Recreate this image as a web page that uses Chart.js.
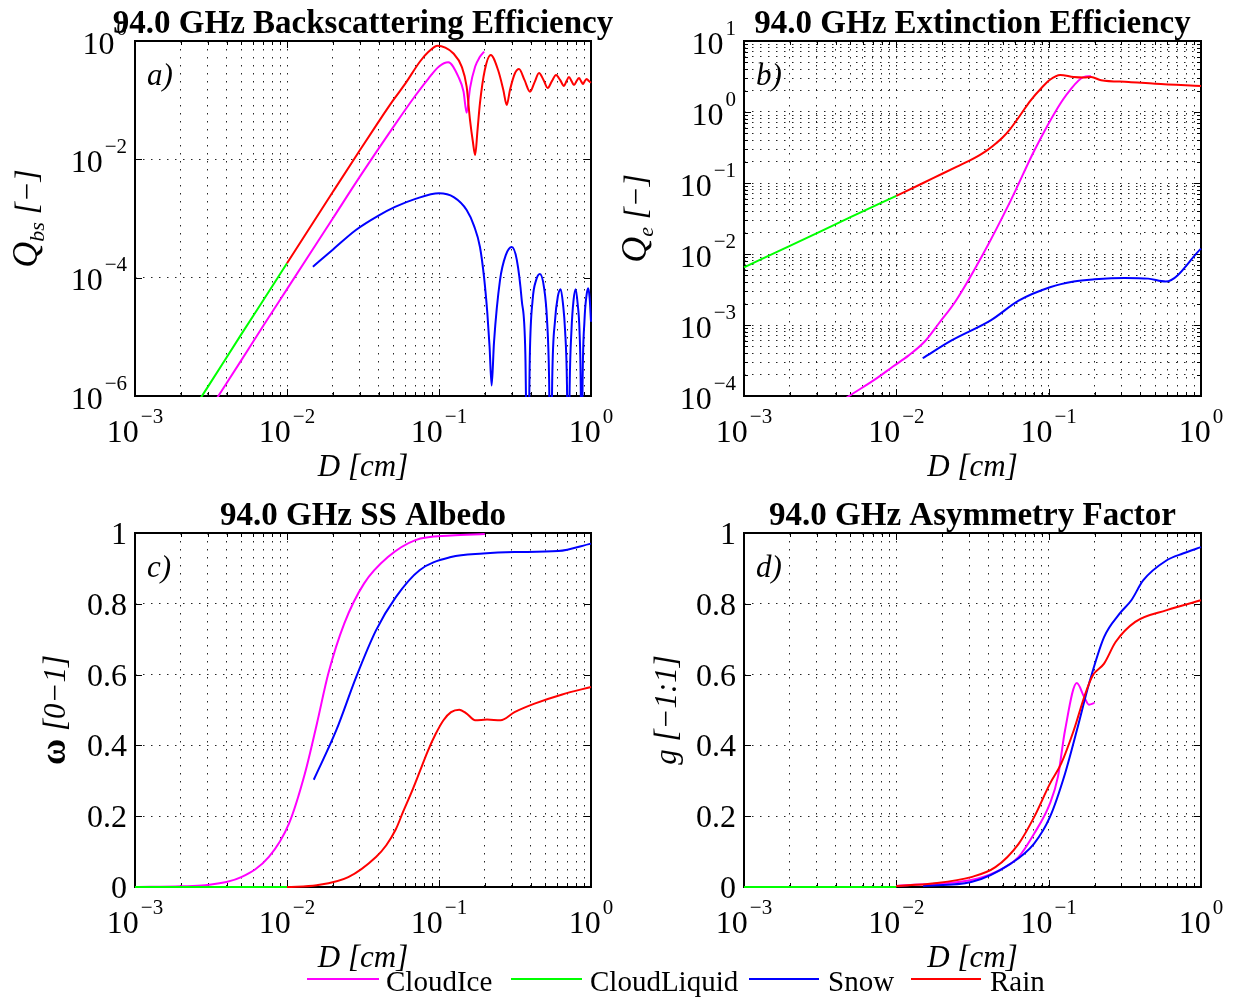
<!DOCTYPE html>
<html>
<head>
<meta charset="utf-8">
<title>94.0 GHz scattering properties</title>
<script src="https://cdn.jsdelivr.net/npm/chart.js@4.4.0/dist/chart.umd.min.js"></script>
<style>
  html, body { margin: 0; padding: 0; background: #fff; }
  #fig { position: relative; width: 1233px; height: 998px; overflow: hidden; }
  #fig canvas { position: absolute; left: 0; top: 0; }
</style>
</head>
<body>
<div id="fig">
  <canvas id="cA" width="1233" height="998"></canvas>
  <canvas id="cB" width="1233" height="998"></canvas>
  <canvas id="cC" width="1233" height="998"></canvas>
  <canvas id="cD" width="1233" height="998"></canvas>
</div>
<script>
// ---- data (D in cm) ----

// a) backscattering efficiency
const aIceD  = [0.001, 0.002, 0.003, 0.005, 0.007, 0.01, 0.02, 0.03, 0.05, 0.07, 0.085, 0.1, 0.115, 0.134, 0.145, 0.152, 0.16, 0.173, 0.185, 0.198];
const aIceQ  = [6e-9, 1e-7, 5.2e-7, 4e-6, 1.55e-5, 6.4e-5, 1e-3, 5e-3, 0.035, 0.12, 0.23, 0.37, 0.436, 0.25, 0.14, 0.061, 0.16, 0.37, 0.53, 0.66];
const aLiqD  = [0.001, 0.002, 0.003, 0.005, 0.007, 0.01];
const aLiqQ  = [1.7e-8, 2.8e-7, 1.4e-6, 1.1e-5, 4.2e-5, 1.75e-4];
const aSnowD = [0.0148, 0.02, 0.0284, 0.04, 0.0514, 0.07, 0.1, 0.125, 0.152, 0.17, 0.186, 0.198, 0.208, 0.215, 0.222, 0.23, 0.252, 0.275, 0.301, 0.325, 0.35, 0.37, 0.383, 0.396, 0.413, 0.435, 0.461, 0.49, 0.514, 0.53, 0.543, 0.556, 0.58, 0.605, 0.632, 0.655, 0.675, 0.695, 0.709, 0.724, 0.744, 0.768, 0.793, 0.818, 0.84, 0.856, 0.868, 0.88, 0.906, 0.932, 0.959, 0.98, 1.0];
const aSnowQ = [1.53e-4, 2.97e-4, 6.4e-4, 1.12e-3, 1.57e-3, 2.15e-3, 2.67e-3, 2.3e-3, 1.39e-3, 7.5e-4, 3.3e-4, 1e-4, 2.5e-5, 7e-6, 1.5e-6, 8e-6, 9.1e-5, 2.4e-4, 3.3e-4, 2e-4, 4.2e-5, 5e-6, 1e-8, 5e-6, 4.2e-5, 9e-5, 1.15e-4, 7e-5, 1.9e-5, 2e-6, 1e-8, 2e-6, 1.9e-5, 4.8e-5, 6.4e-5, 3.5e-5, 1.3e-5, 1.5e-6, 1e-8, 1.5e-6, 1.3e-5, 4.2e-5, 6.4e-5, 3.5e-5, 1.3e-5, 1.5e-6, 1e-8, 1.5e-6, 1.9e-5, 4.8e-5, 6.6e-5, 4.5e-5, 1.8e-5];
const aRainD = [0.01, 0.02, 0.03, 0.04, 0.05, 0.06, 0.075, 0.085, 0.098, 0.11, 0.124, 0.141, 0.152, 0.16, 0.167, 0.173, 0.179, 0.186, 0.2, 0.219, 0.245, 0.265, 0.279, 0.293, 0.316, 0.336, 0.365, 0.397, 0.425, 0.455, 0.487, 0.519, 0.553, 0.589, 0.626, 0.664, 0.69, 0.716, 0.745, 0.773, 0.803, 0.834, 0.86, 0.886, 0.91, 0.937, 0.968, 1.0];
const aRainQ = [1.75e-4, 2.8e-3, 0.014, 0.043, 0.1, 0.19, 0.45, 0.65, 0.83, 0.77, 0.62, 0.37, 0.17, 0.046, 0.02, 0.0118, 0.03, 0.089, 0.32, 0.58, 0.32, 0.149, 0.083, 0.149, 0.285, 0.336, 0.22, 0.139, 0.2, 0.288, 0.22, 0.161, 0.21, 0.266, 0.22, 0.174, 0.21, 0.246, 0.21, 0.18, 0.21, 0.237, 0.21, 0.187, 0.21, 0.228, 0.21, 0.197];

// b) extinction efficiency
const bIceD  = [0.004, 0.0049, 0.0075, 0.0095, 0.012, 0.0153, 0.019, 0.0246, 0.0372, 0.0564, 0.0804, 0.115, 0.137, 0.169, 0.19];
const bIceQ  = [7.5e-5, 1e-4, 1.8e-4, 2.6e-4, 3.7e-4, 5.8e-4, 1.05e-3, 2.2e-3, 0.0101, 0.057, 0.285, 1.16, 1.99, 3.1, 3.2];
const bLiqD  = [0.001, 0.002, 0.005, 0.01];
const bLiqQ  = [6.5e-3, 0.013, 0.033, 0.066];
const bSnowD = [0.0149, 0.0232, 0.0419, 0.0635, 0.102, 0.146, 0.2, 0.316, 0.45, 0.587, 1.0];
const bSnowQ = [3.4e-4, 6.1e-4, 1.17e-3, 2.2e-3, 3.4e-3, 4.1e-3, 4.4e-3, 4.6e-3, 4.5e-3, 4.1e-3, 0.0119];
const bRainD = [0.01, 0.015, 0.02, 0.025, 0.03, 0.035, 0.04, 0.045, 0.05, 0.056, 0.065, 0.076, 0.09, 0.102, 0.119, 0.146, 0.17, 0.19, 0.221, 0.335, 0.5, 1.0];
const bRainQ = [0.066, 0.1, 0.135, 0.17, 0.205, 0.245, 0.295, 0.36, 0.44, 0.58, 0.9, 1.45, 2.2, 2.85, 3.33, 3.1, 3.05, 3.1, 2.8, 2.65, 2.5, 2.33];

// c) single scattering albedo
const cIceD  = [0.001, 0.002, 0.0029, 0.005, 0.0076, 0.0103, 0.0131, 0.0157, 0.0187, 0.0238, 0.0321, 0.0461, 0.07, 0.12, 0.2];
const cIceW  = [0, 0.002, 0.005, 0.028, 0.085, 0.179, 0.32, 0.46, 0.603, 0.744, 0.857, 0.932, 0.98, 0.993, 0.997];
const cLiqD  = [0.001, 0.01];
const cLiqW  = [0, 0];
const cSnowD = [0.015, 0.0211, 0.0285, 0.0385, 0.052, 0.0745, 0.12, 0.195, 0.314, 0.608, 1.0];
const cSnowW = [0.303, 0.443, 0.593, 0.725, 0.819, 0.895, 0.932, 0.942, 0.946, 0.949, 0.97];
const cRainD = [0.01, 0.0157, 0.0253, 0.0385, 0.045, 0.052, 0.058, 0.066, 0.075, 0.084, 0.095, 0.107, 0.12, 0.136, 0.152, 0.173, 0.207, 0.254, 0.314, 0.425, 0.647, 1.0];
const cRainW = [0, 0.005, 0.028, 0.085, 0.118, 0.163, 0.212, 0.268, 0.328, 0.382, 0.432, 0.471, 0.494, 0.501, 0.49, 0.471, 0.473, 0.471, 0.494, 0.518, 0.544, 0.565];

// d) asymmetry factor
const dIceD  = [0.01, 0.031, 0.0447, 0.0635, 0.0804, 0.102, 0.115, 0.128, 0.153, 0.171, 0.184, 0.2];
const dIceG  = [0.003, 0.02, 0.042, 0.085, 0.151, 0.236, 0.311, 0.442, 0.576, 0.537, 0.515, 0.52];
const dLiqD  = [0.001, 0.01];
const dLiqG  = [0, 0];
const dSnowD = [0.015, 0.031, 0.0564, 0.08, 0.102, 0.128, 0.153, 0.184, 0.231, 0.292, 0.349, 0.417, 0.596, 0.76, 1.0];
const dSnowG = [0.003, 0.014, 0.066, 0.122, 0.198, 0.32, 0.442, 0.574, 0.706, 0.772, 0.81, 0.866, 0.923, 0.942, 0.96];
const dRainD = [0.01, 0.0172, 0.031, 0.0447, 0.0635, 0.0804, 0.102, 0.121, 0.146, 0.174, 0.195, 0.231, 0.275, 0.37, 0.596, 1.0];
const dRainG = [0.003, 0.01, 0.028, 0.056, 0.122, 0.198, 0.292, 0.349, 0.442, 0.546, 0.598, 0.631, 0.692, 0.749, 0.782, 0.81];

// ticks
const xDecades   = [-3, -2, -1, 0];
const aYDecades  = [-6, -4, -2, 0];
const bYDecades  = [-4, -3, -2, -1, 0, 1];
const linTicks   = [0, 0.2, 0.4, 0.6, 0.8, 1];
const linLabels  = ['0', '0.2', '0.4', '0.6', '0.8', '1'];

const seriesNames = ['CloudIce', 'CloudLiquid', 'Snow', 'Rain'];
const seriesColors = ['#ff00ff', '#00ff00', '#0000ff', '#ff0000'];

// ---- drawing helpers ----
const SERIF = '"Liberation Serif", "Times New Roman", Times, serif';
const GRID = 'rgba(0,0,0,0.85)';

function pts(xs, ys) {
    return xs.map((x, i) => ({ x: x, y: ys[i] }));
}

function withMinors(decades) {
    const out = [];
    for (let i = 0; i < decades.length - 1; i++) {
        for (let m = 1; m < 10; m++) {
            out.push({ value: m * Math.pow(10, decades[i]), major: m === 1 });
        }
    }
    out.push({ value: Math.pow(10, decades[decades.length - 1]), major: true });
    return out;
}

function drawPow(ctx, exp, x, y, align) {
    const es = exp < 0 ? '\u2212' + (-exp) : String(exp);
    ctx.font = '32px ' + SERIF;
    const w1 = ctx.measureText('10').width;
    ctx.font = '21px ' + SERIF;
    const w2 = ctx.measureText(es).width;
    const x0 = align === 'center' ? x - (w1 + w2 + 2) / 2 : x - (w1 + w2 + 2);
    ctx.textAlign = 'left';
    ctx.font = '32px ' + SERIF;
    ctx.fillText('10', x0, y);
    ctx.font = '21px ' + SERIF;
    ctx.fillText(es, x0 + w1 + 2, y - 19);
}

function drawRich(ctx, parts, cx, cy) {
    // parts drawn on a rotated baseline, centred on cy
    let total = 0;
    parts.forEach(p => { ctx.font = p.font; p.w = ctx.measureText(p.t).width; total += p.w; });
    ctx.save();
    ctx.translate(cx, cy);
    ctx.rotate(-Math.PI / 2);
    ctx.textAlign = 'left';
    let x = -total / 2;
    parts.forEach(p => { ctx.font = p.font; ctx.fillText(p.t, x, p.dy || 0); x += p.w; });
    ctx.restore();
}

function makeDecor(p) {
    return {
        id: 'decor' + p.key,
        beforeDatasetsDraw(chart) {
            const ctx = chart.ctx;
            const a = chart.chartArea;
            const xs = chart.scales.x;
            const ys = chart.scales.y;
            ctx.save();
            ctx.strokeStyle = '#000';

            // inward tick marks
            ctx.lineWidth = 1;
            ctx.beginPath();
            xs.ticks.forEach(t => {
                const px = Math.round(xs.getPixelForValue(t.value)) + 0.5;
                const len = t.major ? 7 : 4;
                ctx.moveTo(px, a.bottom); ctx.lineTo(px, a.bottom - len);
                ctx.moveTo(px, a.top); ctx.lineTo(px, a.top + len);
            });
            ys.ticks.forEach(t => {
                const py = Math.round(ys.getPixelForValue(t.value)) + 0.5;
                const len = t.major === false ? 4 : 7;
                ctx.moveTo(a.left, py); ctx.lineTo(a.left + len, py);
                ctx.moveTo(a.right, py); ctx.lineTo(a.right - len, py);
            });
            ctx.stroke();

            // axes box
            ctx.lineWidth = 2;
            ctx.strokeRect(a.left, a.top, a.right - a.left, a.bottom - a.top);
            ctx.restore();
        },
        afterDatasetsDraw(chart) {
            const ctx = chart.ctx;
            const a = chart.chartArea;
            const xs = chart.scales.x;
            const ys = chart.scales.y;
            ctx.save();
            ctx.fillStyle = '#000';
            ctx.textBaseline = 'alphabetic';

            // x tick labels
            xDecades.forEach(e => drawPow(ctx, e, xs.getPixelForValue(Math.pow(10, e)), a.bottom + 46, 'center'));

            // y tick labels
            if (p.yDecades) {
                p.yDecades.forEach(e => drawPow(ctx, e, a.left - 8, ys.getPixelForValue(Math.pow(10, e)) + 12.5, 'right'));
            } else {
                ctx.font = '32px ' + SERIF;
                ctx.textAlign = 'right';
                linTicks.forEach((v, i) => ctx.fillText(linLabels[i], a.left - 8, ys.getPixelForValue(v) + 11));
            }

            const cx = (a.left + a.right) / 2;
            const cy = (a.top + a.bottom) / 2;

            // title
            ctx.font = 'bold 33px ' + SERIF;
            ctx.textAlign = 'center';
            ctx.fillText(p.title, cx, a.top - 8);

            // x label
            ctx.font = 'italic 31px ' + SERIF;
            ctx.fillText('D [cm]', cx, a.bottom + 80);

            // y label
            drawRich(ctx, p.ylabel, a.left - p.ylabelGap, cy);

            // panel letter
            ctx.font = 'italic 31px ' + SERIF;
            ctx.textAlign = 'left';
            ctx.fillText(p.letter, a.left + 12, a.top + 44);

            // legend along the bottom
            if (p.legend) {
                const lineX = [[307, 379], [511, 582], [749, 819], [911, 981]];
                const textX = [386, 590, 828, 990];
                ctx.font = '29px ' + SERIF;
                ctx.textAlign = 'left';
                seriesNames.forEach((name, i) => {
                    ctx.strokeStyle = seriesColors[i];
                    ctx.lineWidth = 2;
                    ctx.beginPath();
                    ctx.moveTo(lineX[i][0], 979);
                    ctx.lineTo(lineX[i][1], 979);
                    ctx.stroke();
                    ctx.fillText(name, textX[i], 991);
                });
            }
            ctx.restore();
        }
    };
}

function makeChart(p) {
    const [L, T, R, B] = p.box;
    const datasets = p.series.map((s, i) => ({
        label: seriesNames[i],
        data: pts(s[0], s[1]),
        borderColor: seriesColors[i],
        backgroundColor: seriesColors[i],
        borderWidth: 2,
        pointRadius: 0,
        fill: false,
        cubicInterpolationMode: 'monotone',
        clip: p.yDecades ? 1 : 3,
        order: 4 - i
    }));

    const gridOpts = { color: GRID, lineWidth: 1, drawTicks: false };
    const borderOpts = { display: false, dash: [1.5, 6.5] };

    const yScale = p.yDecades ? {
        type: 'logarithmic', min: p.yMin, max: p.yMax,
        afterBuildTicks: s => { s.ticks = p.yGrid; },
        afterFit: s => { s.width = 0; },
        ticks: { display: false }, grid: gridOpts, border: borderOpts
    } : {
        type: 'linear', min: 0, max: 1,
        afterBuildTicks: s => { s.ticks = linTicks.map(v => ({ value: v, major: true })); },
        afterFit: s => { s.width = 0; },
        ticks: { display: false }, grid: gridOpts, border: borderOpts
    };

    return new Chart(document.getElementById(p.key), {
        type: 'line',
        data: { datasets: datasets },
        options: {
            responsive: false,
            animation: false,
            devicePixelRatio: 1,
            layout: { padding: { left: L, top: T, right: 1233 - R, bottom: 998 - B } },
            plugins: { legend: { display: false }, tooltip: { enabled: false } },
            scales: {
                x: {
                    type: 'logarithmic', min: 1e-3, max: 1,
                    afterBuildTicks: s => { s.ticks = withMinors(xDecades); },
                    afterFit: s => { s.height = 0; },
                    ticks: { display: false }, grid: gridOpts, border: borderOpts
                },
                y: yScale
            }
        },
        plugins: [makeDecor(p)]
    });
}

const qParts = sub => [
    { t: 'Q', font: 'italic 36px ' + SERIF },
    { t: sub, font: 'italic 22px ' + SERIF, dy: 7 },
    { t: ' [\u2212]', font: 'italic 31px ' + SERIF }
];

makeChart({
    key: 'cA', box: [135, 41, 591, 396],
    title: '94.0 GHz Backscattering Efficiency', letter: 'a)',
    yDecades: aYDecades, yMin: 1e-6, yMax: 1,
    yGrid: aYDecades.map(e => ({ value: Math.pow(10, e), major: true })),
    ylabel: qParts('bs'), ylabelGap: 98,
    series: [[aIceD, aIceQ], [aLiqD, aLiqQ], [aSnowD, aSnowQ], [aRainD, aRainQ]]
});

makeChart({
    key: 'cB', box: [744, 41, 1201, 396],
    title: '94.0 GHz Extinction Efficiency', letter: 'b)',
    yDecades: bYDecades, yMin: 1e-4, yMax: 10,
    yGrid: withMinors(bYDecades),
    ylabel: qParts('e'), ylabelGap: 98,
    series: [[bIceD, bIceQ], [bLiqD, bLiqQ], [bSnowD, bSnowQ], [bRainD, bRainQ]]
});

makeChart({
    key: 'cC', box: [135, 533, 591, 887],
    title: '94.0 GHz SS Albedo', letter: 'c)',
    ylabel: [
        { t: '\u03c9', font: 'bold 36px ' + SERIF },
        { t: ' [0\u22121]', font: 'italic 31px ' + SERIF }
    ], ylabelGap: 70,
    series: [[cIceD, cIceW], [cLiqD, cLiqW], [cSnowD, cSnowW], [cRainD, cRainW]]
});

makeChart({
    key: 'cD', box: [744, 533, 1201, 887],
    title: '94.0 GHz Asymmetry Factor', letter: 'd)',
    ylabel: [
        { t: 'g [\u22121:1]', font: 'italic 31px ' + SERIF }
    ], ylabelGap: 68,
    legend: true,
    series: [[dIceD, dIceG], [dLiqD, dLiqG], [dSnowD, dSnowG], [dRainD, dRainG]]
});
</script>
</body>
</html>
